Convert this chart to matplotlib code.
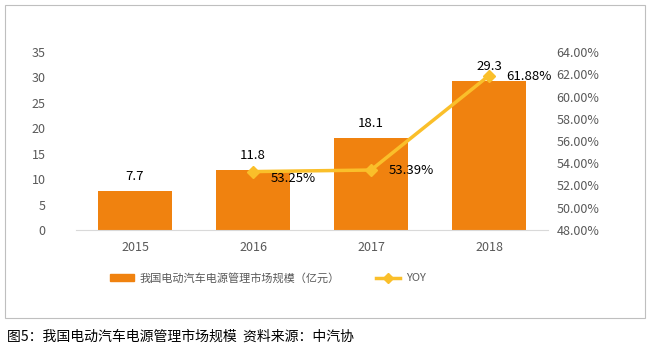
import matplotlib.pyplot as plt
from matplotlib.patches import Rectangle
from matplotlib.lines import Line2D

plt.rcParams['font.family'] = ['Noto Sans CJK SC', 'DejaVu Sans']

# data
years = ['2015', '2016', '2017', '2018']
market_size = [7.7, 11.8, 18.1, 29.3]          # 亿元
yoy_years = ['2016', '2017', '2018']
yoy = [53.25, 53.39, 61.88]                      # percent

bar_color = '#F0820F'
line_color = '#FABF2A'
tick_color = '#595959'

fig = plt.figure(figsize=(6.5, 3.51), dpi=100)

# outer border of the chart box
fig.patches.append(Rectangle((5 / 650, 1 - 318 / 351), 640 / 650, 313 / 351,
                             transform=fig.transFigure, fill=False,
                             edgecolor='#BFBFBF', linewidth=0.8))

ax = fig.add_axes([76 / 650, 1 - 230 / 351, 472 / 650, 178 / 351])
x = list(range(len(years)))
bars = ax.bar(x, market_size, width=0.63, color=bar_color, zorder=2)
ax.set_xlim(-0.5, len(years) - 0.5)
ax.set_ylim(0, 35)
ax.set_yticks(range(0, 36, 5))
ax.set_xticks(x)
ax.set_xticklabels(years)
for s in ['top', 'right', 'left']:
    ax.spines[s].set_visible(False)
ax.spines['bottom'].set_color('#D9D9D9')
ax.tick_params(axis='both', length=0, colors=tick_color, labelsize=9)
ax.tick_params(axis='x', pad=8)
ax.tick_params(axis='y', pad=22)

for xi, v in zip(x, market_size):
    ax.text(xi, v + 1.5, f'{v}', ha='center', va='bottom', fontsize=9.5, color='#000000')

ax2 = ax.twinx()
yx = [years.index(y) for y in yoy_years]
ax2.plot(yx, yoy, color=line_color, linewidth=2.5, marker='D', markersize=6, zorder=3)
ax2.set_ylim(48, 64)
ax2.set_yticks(range(48, 65, 2))
ax2.set_yticklabels([f'{t:.2f}%' for t in range(48, 65, 2)])
for s in ['top', 'right', 'left', 'bottom']:
    ax2.spines[s].set_visible(False)
ax2.tick_params(axis='y', length=0, colors=tick_color, labelsize=9, pad=6)

offsets = [(0.15, -0.6), (0.15, -0.05), (0.15, -0.1)]
for xi, v, (dx, dy) in zip(yx, yoy, offsets):
    ax2.text(xi + dx, v + dy, f'{v:.2f}%', ha='left', va='center', fontsize=9.5, color='#000000')

# legend
handles = [Rectangle((0, 0), 1, 1, color=bar_color),
           Line2D([0], [0], color=line_color, linewidth=2.5, marker='D', markersize=5)]
fig.legend(handles, ['我国电动汽车电源管理市场规模（亿元）', 'YOY'],
           loc='center left', bbox_to_anchor=(100 / 650, 1 - 278 / 351), ncol=2, frameon=False,
           fontsize=8, labelcolor=tick_color, columnspacing=3.2, handlelength=2.2,
           handletextpad=0.5)

fig.text(7 / 650, 1 - 337 / 351, '图5：我国电动汽车电源管理市场规模  资料来源：中汽协',
         ha='left', va='center', fontsize=10, color='#000000')

plt.savefig('out.png', dpi=100)
